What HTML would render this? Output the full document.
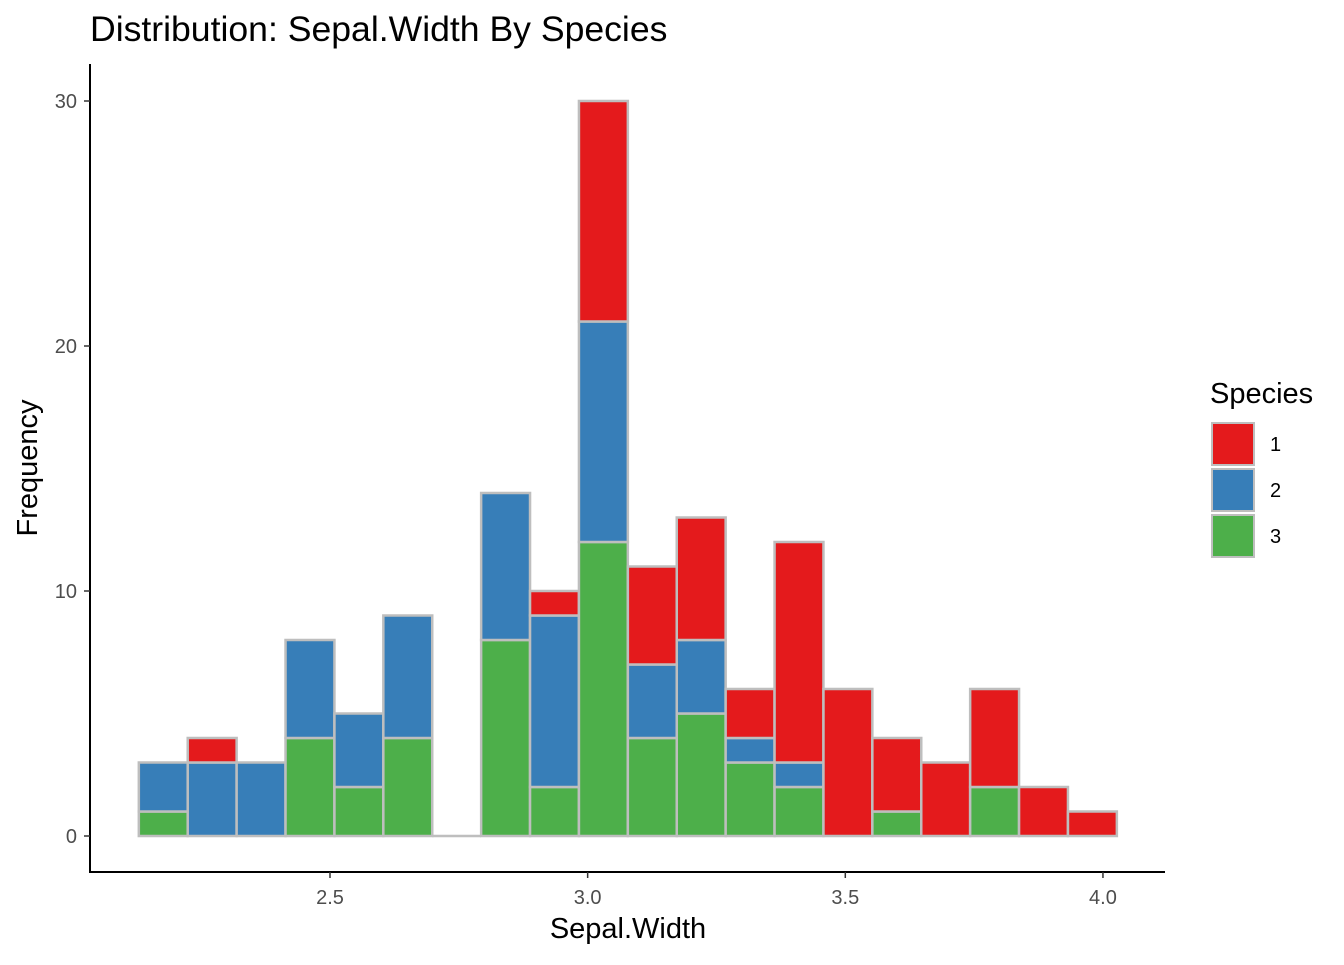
<!DOCTYPE html>
<html><head><meta charset="utf-8"><style>
body{margin:0;background:#fff;font-family:"Liberation Sans",sans-serif;}
</style></head><body>
<svg id="chart" width="1344" height="960" xmlns="http://www.w3.org/2000/svg" font-family="Liberation Sans, sans-serif">
<text x="90" y="41" font-size="35.6" fill="#000">Distribution: Sepal.Width By Species</text>
<g id="bars"></g>
<line x1="90" y1="64" x2="90" y2="873" stroke="#000" stroke-width="2"/>
<line x1="89" y1="872" x2="1165" y2="872" stroke="#000" stroke-width="2"/>
<g id="yticks"></g>
<g id="xticks"></g>
<text x="628" y="938" font-size="29" text-anchor="middle">Sepal.Width</text>
<text transform="translate(37,468) rotate(-90)" font-size="29" text-anchor="middle">Frequency</text>
<g>
<text x="1210" y="403" font-size="29">Species</text>
<rect x="1212" y="423" width="42" height="42" fill="#E41A1C" stroke="#bebebe" stroke-width="2"/>
<rect x="1212" y="469" width="42" height="42" fill="#377EB8" stroke="#bebebe" stroke-width="2"/>
<rect x="1212" y="515" width="42" height="42" fill="#4DAF4A" stroke="#bebebe" stroke-width="2"/>
<text x="1270" y="451" font-size="20">1</text>
<text x="1270" y="497" font-size="20">2</text>
<text x="1270" y="543" font-size="20">3</text>
</g>
</svg>
<script>
const binStart = 2.129;
const binWidth = 0.0949;
const species3 = [1,0,0,4,2,4,0,8,2,12,4,5,3,2,0,1,0,2,0,0];
const species2 = [2,3,3,4,3,5,0,6,7,9,3,3,1,1,0,0,0,0,0,0];
const species1 = [0,1,0,0,0,0,0,0,1,9,4,5,2,9,6,3,3,4,2,1];
const yTicks = [0,10,20,30];
const xTicks = [2.5,3.0,3.5,4.0];
const xTickLabels = ["2.5","3.0","3.5","4.0"];
const NS="http://www.w3.org/2000/svg";
function xs(v){return 330+(v-2.5)*515.3;}
function ys(v){return 836-v*24.5;}
const bars=document.getElementById('bars');
const series=[[species3,"#4DAF4A","3"],[species2,"#377EB8","2"],[species1,"#E41A1C","1"]];
for(let i=0;i<species1.length;i++){
  let base=0;
  const x0=xs(binStart+i*binWidth), x1=xs(binStart+(i+1)*binWidth);
  const total=species1[i]+species2[i]+species3[i];
  if(total===0){
    const z=document.createElementNS(NS,'line');
    
    
    z.setAttribute('x1',x0);z.setAttribute('x2',x1);z.setAttribute('y1',ys(0));z.setAttribute('y2',ys(0));
    z.setAttribute('stroke','#bebebe');z.setAttribute('stroke-width','2.5');
    bars.appendChild(z);
    continue;
  }
  for(const [arr,col,nm] of series){
    const v=arr[i];
    if(v===0) continue;
    const r=document.createElementNS(NS,'rect');
    
    
    r.setAttribute('x',x0);r.setAttribute('width',x1-x0);
    r.setAttribute('y',ys(base+v));r.setAttribute('height',ys(base)-ys(base+v));
    r.setAttribute('fill',col);r.setAttribute('stroke','#bebebe');r.setAttribute('stroke-width','2.5');
    bars.appendChild(r);
    base+=v;
  }
}
const yt=document.getElementById('yticks');
yTicks.forEach(v=>{
  const l=document.createElementNS(NS,'line');
  
  
  l.setAttribute('x1',84);l.setAttribute('x2',90);l.setAttribute('y1',ys(v));l.setAttribute('y2',ys(v));
  l.setAttribute('stroke','#333');l.setAttribute('stroke-width','1.5');yt.appendChild(l);
  const t=document.createElementNS(NS,'text');
  
  
  t.setAttribute('x',77);t.setAttribute('y',ys(v)+7);t.setAttribute('text-anchor','end');
  t.setAttribute('font-size','20');t.setAttribute('fill','#4d4d4d');t.textContent=v;yt.appendChild(t);
});
const xt=document.getElementById('xticks');
xTicks.forEach((v,i)=>{
  const l=document.createElementNS(NS,'line');
  
  
  l.setAttribute('x1',xs(v));l.setAttribute('x2',xs(v));l.setAttribute('y1',872);l.setAttribute('y2',878);
  l.setAttribute('stroke','#333');l.setAttribute('stroke-width','1.5');xt.appendChild(l);
  const t=document.createElementNS(NS,'text');
  
  
  t.setAttribute('x',xs(v));t.setAttribute('y',904);t.setAttribute('text-anchor','middle');
  t.setAttribute('font-size','20');t.setAttribute('fill','#4d4d4d');t.textContent=xTickLabels[i];xt.appendChild(t);
});
</script>
</body></html>
